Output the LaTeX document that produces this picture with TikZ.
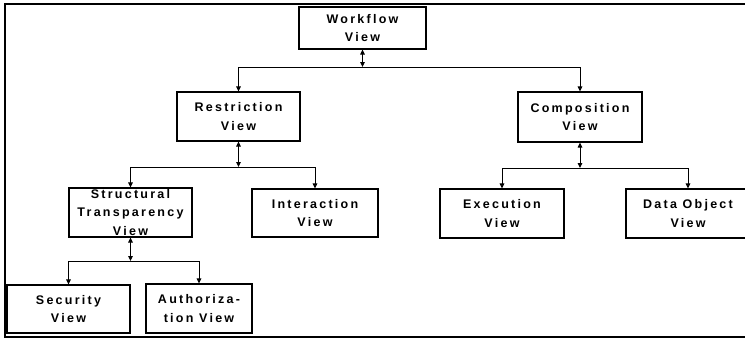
\documentclass[tikz,border=0pt]{standalone}
\usepackage{fontspec}
\newfontfamily\boxfont{Liberation Sans}[LetterSpace=18]
\usetikzlibrary{arrows.meta}
\tikzset{
  viewbox/.style={draw, line width=1.1pt, inner sep=0pt, align=center,
    font=\boxfont\bfseries\fontsize{12.5}{18.5}\selectfont},
  tree/.style={line width=1pt, -{Triangle[length=5pt,width=4.5pt]}},
  dbl/.style={line width=1pt, {Triangle[length=5pt,width=4.5pt]}-{Triangle[length=5pt,width=4.5pt]}},
  frameline/.style={line width=2pt}
}
\begin{document}
\begin{tikzpicture}[x=1pt,y=-1pt]
\useasboundingbox (0,0) rectangle (745,338);
% frame
\draw[frameline] (745,4) -- (5,4) -- (5,337) -- (745,337);
% boxes
\node[viewbox, minimum width=127, minimum height=42] (W) at (362.5,28) {Workflow\\View};
\node[viewbox, minimum width=123, minimum height=49] (R) at (238.5,116.5) {Restriction\\View};
\node[viewbox, minimum width=124, minimum height=50] (C) at (580,117) {Composition\\View};
\node[viewbox, minimum width=123, minimum height=49] (ST) at (130.5,212.5) {Structural\\Transparency\\View};
\node[viewbox, minimum width=126, minimum height=48] (I) at (315,213) {Interaction\\View};
\node[viewbox, minimum width=124, minimum height=49] (E) at (502,213.5) {Execution\\View};
\node[viewbox, minimum width=124, minimum height=49] (D) at (688,213.5) {Data Object\\View};
\node[viewbox, minimum width=123, minimum height=48] (S) at (68.5,309) {Security\\View};
\node[viewbox, minimum width=106, minimum height=49] (A) at (199,308.5) {Authoriza-\\tion View};
% junctions
\coordinate (jW) at (W.south |- 0,67);
\coordinate (jR) at (R.south |- 0,167);
\coordinate (jC) at (C.south |- 0,168);
\coordinate (jST) at (ST.south |- 0,261);
% connectors
\draw[dbl] (W.south) -- (jW);
\draw[tree] (jW) -| (R.north);
\draw[tree] (jW) -| (C.north);
\draw[dbl] (R.south) -- (jR);
\draw[tree] (jR) -| (ST.north);
\draw[tree] (jR) -| (I.north);
\draw[dbl] (C.south) -- (jC);
\draw[tree] (jC) -| (E.north);
\draw[tree] (jC) -| (D.north);
\draw[dbl] (ST.south) -- (jST);
\draw[tree] (jST) -| (S.north);
\draw[tree] (jST) -| (A.north);
\end{tikzpicture}
\end{document}
